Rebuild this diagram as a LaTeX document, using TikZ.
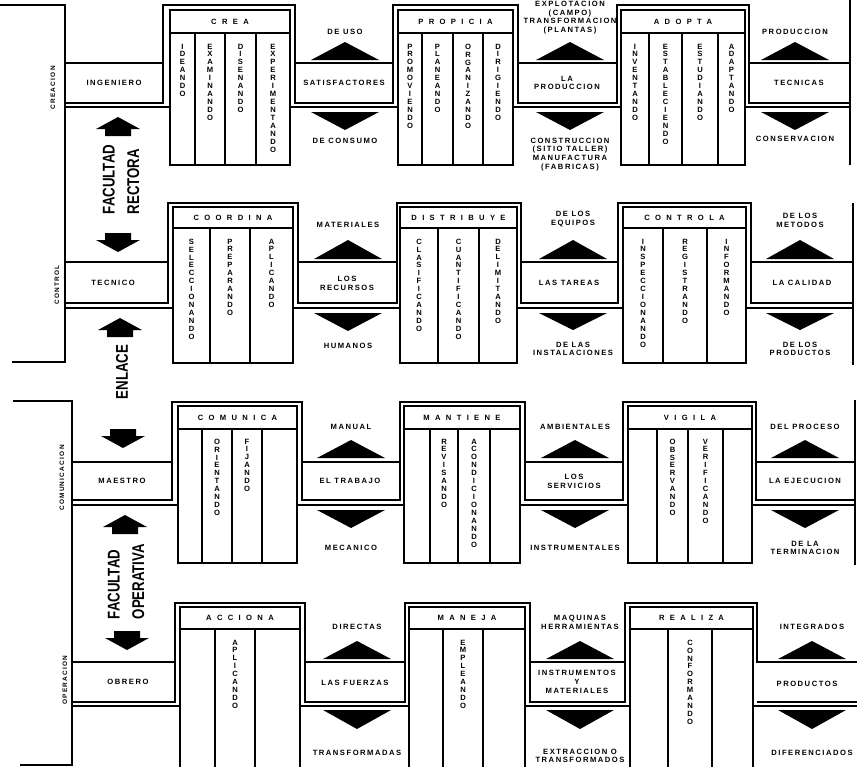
\documentclass[tikz,border=0pt]{standalone}
\usepackage{fontspec}
\setmainfont{Liberation Sans}
\newfontfamily\lblfont[LetterSpace=20]{Liberation Sans}
\newfontfamily\ttlfont[LetterSpace=70]{Liberation Sans}
\newfontfamily\bigfont[FakeStretch=0.78]{Liberation Sans}
\makeatletter
\newcommand\vtext[1]{\edef\vt@list{#1}\vbox{\baselineskip=6.8pt\lineskiplimit=-\maxdimen
  \expandafter\vt@loop\vt@list\@nil}}
\def\vt@loop#1{\ifx#1\@nil\else\hbox to 1em{\hss#1\hss}\expandafter\vt@loop\fi}
\makeatother
\begin{document}
\begin{tikzpicture}[x=0.3mm, y=-0.3mm, line width=1.3pt,
  lbl/.style={font=\lblfont\bfseries\fontsize{6.5}{7.5}\selectfont, align=center, inner sep=0pt},
  ttl/.style={font=\ttlfont\bfseries\fontsize{6.5}{7.5}\selectfont, inner sep=0pt},
  col/.style={font=\bfseries\fontsize{6.5}{6.8}\selectfont, inner sep=0pt, anchor=north},
  rowlbl/.style={font=\lblfont\bfseries\fontsize{5.5}{6}\selectfont, rotate=90, inner sep=0pt},
  big/.style={font=\bigfont\bfseries\fontsize{14.5}{21}\selectfont, rotate=90, align=left,
        inner sep=0pt, anchor=west},
]
  \useasboundingbox (0,0) rectangle (857,767);
  \draw (0,5) -- (65,5) -- (65,362) -- (12,362);
  \draw (13,401) -- (72,401) -- (72,765) -- (20,765);

  \draw (65,63) -- (163,63) -- (163,5) -- (295,5) -- (295,63) -- (393,63) -- (393,5) -- (518,5)
        -- (518,63) -- (617,63) -- (617,5) -- (749,5) -- (749,63) -- (850,63);
  \draw (850,0) -- (850,165);
  \draw (65,103) -- (163,103) -- (163,63);
  \draw (295,63) rectangle (393,103) (518,63) rectangle (617,103) (749,63) rectangle (850,103);
  \draw (65,107) -- (170,107) (290,107) -- (398,107) (513,107) -- (621,107) (745,107) -- (850,107);
  \draw (170,10) rectangle (290,165) (170,33) -- (290,33);
  \draw (398,10) rectangle (513,165) (398,33) -- (513,33);
  \draw (621,10) rectangle (745,165) (621,33) -- (745,33);
  \foreach \x in {195,225,256,422,453,483,649,682,718} \draw (\x,33) -- (\x,165);

  \draw (65,262) -- (168,262) -- (168,203) -- (298,203) -- (298,262) -- (397,262) -- (397,203) -- (521,203)
        -- (521,262) -- (618,262) -- (618,203) -- (751,203) -- (751,262) -- (853,262);
  \draw (853,203) -- (853,365);
  \draw (65,303) -- (168,303) -- (168,262);
  \draw (298,262) rectangle (397,303) (521,262) rectangle (618,303) (751,262) rectangle (853,303);
  \draw (65,308) -- (173,308) (293,308) -- (400,308) (517,308) -- (623,308) (746,308) -- (853,308);
  \draw (173,207) rectangle (293,363) (173,228) -- (293,228);
  \draw (400,207) rectangle (517,363) (400,228) -- (517,228);
  \draw (623,207) rectangle (746,363) (623,228) -- (746,228);
  \foreach \x in {210,250,438,479,663,707} \draw (\x,228) -- (\x,363);

  \draw (72,462) -- (172,462) -- (172,402) -- (302,402) -- (302,462) -- (400,462) -- (400,402) -- (525,402)
        -- (525,462) -- (623,462) -- (623,402) -- (756,402) -- (756,462) -- (855,462);
  \draw (855,400) -- (855,565);
  \draw (72,500) -- (172,500) -- (172,462);
  \draw (302,462) rectangle (400,500) (525,462) rectangle (623,500) (756,462) rectangle (855,500);
  \draw (72,505) -- (178,505) (297,505) -- (404,505) (520,505) -- (628,505) (752,505) -- (855,505);
  \draw (178,406) rectangle (297,563) (178,429) -- (297,429);
  \draw (404,406) rectangle (520,563) (404,429) -- (520,429);
  \draw (628,406) rectangle (752,563) (628,429) -- (752,429);
  \foreach \x in {202,232,262,430,458,490,657,688,723} \draw (\x,429) -- (\x,563);

  \draw (72,662) -- (175,662) -- (175,603) -- (305,603) -- (305,662) -- (405,662) -- (405,603) -- (530,603)
        -- (530,662) -- (625,662) -- (625,603) -- (757,603) -- (757,662) -- (857,662);
  \draw (72,702) -- (175,702) -- (175,662);
  \draw (305,662) rectangle (405,702) (530,662) rectangle (625,702) (757,702) -- (857,702);
  \draw (72,706) -- (180,706) (300,706) -- (409,706) (525,706) -- (630,706) (753,706) -- (857,706);
  \draw (180,767) -- (180,607) -- (300,607) -- (300,767) (180,629) -- (300,629);
  \draw (409,767) -- (409,607) -- (525,607) -- (525,767) (409,629) -- (525,629);
  \draw (630,767) -- (630,607) -- (753,607) -- (753,767) (630,629) -- (753,629);
  \foreach \x in {215,255,443,483,668,712} \draw (\x,629) -- (\x,767);

  \foreach \x/\b/\a in {345/60/42, 345/112/130, 570/60/42, 570/112/130, 795/60/42, 795/112/130,
      348/259/240, 348/313/331, 573/259/240, 573/313/330, 800/259/240, 800/313/330,
      351/458/440, 351/510/528, 575/458/440, 575/510/528, 805/458/440, 805/510/528,
      357/659/641, 357/710/729, 580/659/641, 580/710/729, 812/659/641, 812/710/729}
    \fill (\x-34,\b) -- (\x+34,\b) -- (\x,\a) -- cycle;
  \foreach \x/\y/\d in {118/117/1, 118/252/-1, 120/318/1, 123/448/-1, 125/515/1, 127/650/-1}
    \fill (\x,\y) -- ++(22,12*\d) -- ++(-9,0) -- ++(0,7*\d) -- ++(-26,0) -- ++(0,-7*\d) -- ++(-9,0) -- cycle;

  \node[rowlbl] (creacion) at (53,88) {CREACION};
  \node[rowlbl] (control) at (57,285) {CONTROL};
  \node[rowlbl] (comunicacion) at (62,478) {COMUNICACION};
  \node[rowlbl] (operacion) at (65,680) {OPERACION};
  \node[big] (rectora) at (121,215) {FACULTAD\\RECTORA};
  \node[big, anchor=center] (enlace) at (122,372) {ENLACE};
  \node[big] (operativa) at (126,620) {FACULTAD\\OPERATIVA};

  \node[ttl] (crea) at (230,21.5) {CREA};
  \node[ttl] (propicia) at (455.5,21.5) {PROPICIA};
  \node[ttl] (adopta) at (683,21.5) {ADOPTA};
  \foreach \x/\w in {182.5/IDEANDO, 210/EXAMINANDO, 240.5/DISENANDO, 273/EXPERIMENTANDO,
      410/PROMOVIENDO, 437.5/PLANEANDO, 468/ORGANIZANDO, 498/DIRIGIENDO,
      635/INVENTANDO, 665.5/ESTABLECIENDO, 700/ESTUDIANDO, 731.5/ADAPTANDO}
    \node[col] (r1-\w) at (\x,43) {\vtext{\w}};
  \node[lbl] (ingeniero) at (114,83) {INGENIERO};
  \node[lbl] (satisf) at (344,83) {SATISFACTORES};
  \node[lbl] (laprod) at (567,83) {LA\\PRODUCCION};
  \node[lbl] (tecnicas) at (799,83) {TECNICAS};
  \node[lbl, anchor=south] (deuso) at (345,35) {DE USO};
  \node[lbl, anchor=south] (explot) at (570,35) {EXPLOTACION\\(CAMPO)\\TRANSFORMACION\\(PLANTAS)};
  \node[lbl, anchor=south] (produccion) at (795,35) {PRODUCCION};
  \node[lbl, anchor=north] (deconsumo) at (345,137) {DE CONSUMO};
  \node[lbl, anchor=north] (construc) at (570,137) {CONSTRUCCION\\(SITIO TALLER)\\MANUFACTURA\\(FABRICAS)};
  \node[lbl, anchor=north] (conserv) at (795,135) {CONSERVACION};

  \node[ttl] (coordina) at (233,217.5) {COORDINA};
  \node[ttl] (distribuye) at (458.5,217.5) {DISTRIBUYE};
  \node[ttl] (controla) at (684.5,217.5) {CONTROLA};
  \foreach \x/\w in {191.5/SELECCIONANDO, 230/PREPARANDO, 271.5/APLICANDO,
      419/CLASIFICANDO, 458.5/CUANTIFICANDO, 498/DELIMITANDO,
      643/INSPECCIONANDO, 685/REGISTRANDO, 726.5/INFORMANDO}
    \node[col] (r2-\w) at (\x,238) {\vtext{\w}};
  \node[lbl] (tecnico) at (113,283) {TECNICO};
  \node[lbl] (recursos) at (347,283) {LOS\\RECURSOS};
  \node[lbl] (tareas) at (569,283) {LAS TAREAS};
  \node[lbl] (calidad) at (802,283) {LA CALIDAD};
  \node[lbl, anchor=south] (materiales) at (348,228) {MATERIALES};
  \node[lbl, anchor=south] (equipos) at (573,228) {DE LOS\\EQUIPOS};
  \node[lbl, anchor=south] (metodos) at (800,228) {DE LOS\\METODOS};
  \node[lbl, anchor=north] (humanos) at (348,342) {HUMANOS};
  \node[lbl, anchor=north] (instal) at (573,341) {DE LAS\\INSTALACIONES};
  \node[lbl, anchor=north] (productos2) at (800,341) {DE LOS\\PRODUCTOS};

  \node[ttl] (comunica) at (237.5,417.5) {COMUNICA};
  \node[ttl] (mantiene) at (462,417.5) {MANTIENE};
  \node[ttl] (vigila) at (690,417.5) {VIGILA};
  \foreach \x/\w in {217/ORIENTANDO, 247/FIJANDO, 444/REVISANDO, 474/ACONDICIONANDO,
      672.5/OBSERVANDO, 705.5/VERIFICANDO}
    \node[col] (r3-\w) at (\x,438) {\vtext{\w}};
  \node[lbl] (maestro) at (122,481) {MAESTRO};
  \node[lbl] (trabajo) at (350,481) {EL TRABAJO};
  \node[lbl] (servicios) at (574,481) {LOS\\SERVICIOS};
  \node[lbl] (ejecucion) at (805,481) {LA EJECUCION};
  \node[lbl, anchor=south] (manual) at (351,430) {MANUAL};
  \node[lbl, anchor=south] (ambient) at (575,430) {AMBIENTALES};
  \node[lbl, anchor=south] (proceso) at (805,430) {DEL PROCESO};
  \node[lbl, anchor=north] (mecanico) at (351,544) {MECANICO};
  \node[lbl, anchor=north] (instrum) at (575,544) {INSTRUMENTALES};
  \node[lbl, anchor=north] (termin) at (805,540) {DE LA\\TERMINACION};

  \node[ttl] (acciona) at (240,618) {ACCIONA};
  \node[ttl] (maneja) at (467,618) {MANEJA};
  \node[ttl] (realiza) at (691.5,618) {REALIZA};
  \foreach \x/\w in {235/APLICANDO, 463/EMPLEANDO, 690/CONFORMANDO}
    \node[col] (r4-\w) at (\x,639) {\vtext{\w}};
  \node[lbl] (obrero) at (128,682) {OBRERO};
  \node[lbl] (fuerzas) at (355,683) {LAS FUERZAS};
  \node[lbl] (instrmat) at (577,682) {INSTRUMENTOS\\Y\\MATERIALES};
  \node[lbl] (productos) at (807,684) {PRODUCTOS};
  \node[lbl, anchor=south] (directas) at (357,630) {DIRECTAS};
  \node[lbl, anchor=south] (maquinas) at (580,630) {MAQUINAS\\HERRAMIENTAS};
  \node[lbl, anchor=south] (integrados) at (812,630) {INTEGRADOS};
  \node[lbl, anchor=north] (transf) at (357,749) {TRANSFORMADAS};
  \node[lbl, anchor=north] (extracc) at (580,748) {EXTRACCION O\\TRANSFORMADOS};
  \node[lbl, anchor=north] (difer) at (812,749) {DIFERENCIADOS};
\end{tikzpicture}
\end{document}
